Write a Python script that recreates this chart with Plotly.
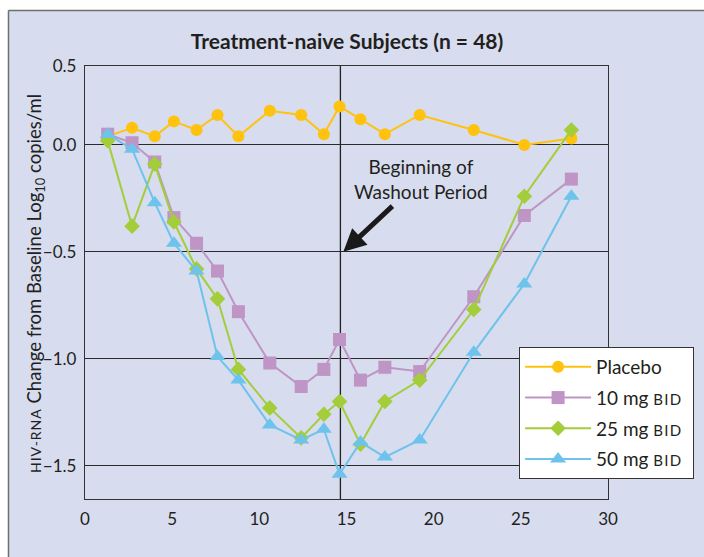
import plotly.graph_objects as go

# ---- data ----
days = [1.3, 2.7, 4.0, 5.1, 6.4, 7.6, 8.8, 10.6, 12.4, 13.7, 14.6, 15.8, 17.2, 19.2, 22.3, 25.2, 27.9]
placebo = [0.04, 0.08, 0.04, 0.11, 0.07, 0.14, 0.04, 0.16, 0.14, 0.05, 0.18, 0.12, 0.05, 0.14, 0.07, 0.00, 0.03]
mg10 = [0.05, 0.01, -0.08, -0.34, -0.46, -0.59, -0.78, -1.02, -1.13, -1.05, -0.91, -1.10, -1.04, -1.06, -0.71, -0.33, -0.16]
mg25 = [0.02, -0.38, -0.09, -0.36, -0.58, -0.72, -1.05, -1.23, -1.37, -1.26, -1.20, -1.40, -1.20, -1.10, -0.77, -0.24, 0.07]
mg50 = [0.05, -0.02, -0.27, -0.46, -0.59, -0.99, -1.10, -1.31, -1.38, -1.33, -1.54, -1.39, -1.46, -1.38, -0.97, -0.65, -0.24]

SC = "<span style='font-size:15px;letter-spacing:1.3px'>BID</span>"
series_names = ["Placebo",
                "10 mg " + SC + "\u00a0",
                "25 mg " + SC + "\u00a0",
                "50 mg " + SC + "\u00a0"]
series_values = [placebo, mg10, mg25, mg50]
colors = ["#FFC20E", "#BE95C4", "#A3CD39", "#6DC3EB"]
symbols = ["circle", "square", "diamond", "triangle-up"]
sizes = [12, 13, 12, 14]

x_tickvals = [0, 5, 10, 15, 20, 25, 30]
y_range = [-1.656, 0.369]
y_tickvals = [-1.5, -1.0, -0.5, 0.0, 0.369]
y_ticktext = ["\u22121.5", "\u22121.0", "\u22120.5", "0.0", "0.5"]
washout_day = 14.65
y_title = ("<span style='font-size:14px;letter-spacing:1px'>HIV-RNA</span> "
           "Change from Baseline Log<sub>10</sub> copies/ml")

FONT = "Lato"
BG = "#D7DCEE"
INK = "#231F20"

fig = go.Figure()
for name, vals, c, s, sz in zip(series_names, series_values, colors, symbols, sizes):
    fig.add_trace(go.Scatter(
        x=days, y=vals, name=name, mode="lines+markers",
        line=dict(color=c, width=2),
        marker=dict(color=c, symbol=s, size=sz, line=dict(width=0)),
        legendgroup=name,
    ))

# washout line
fig.add_shape(type="line", xref="x", yref="paper", x0=washout_day, x1=washout_day,
              y0=0, y1=1, line=dict(color="#222222", width=1.3), layer="below")

# figure frame: white margin at top and left, grey rule around the lavender panel
fig.add_shape(type="rect", xref="paper", yref="paper", x0=-0.2, x1=1.3, y0=1.1293, y1=1.2,
              fillcolor="white", line=dict(width=0), layer="below")
fig.add_shape(type="rect", xref="paper", yref="paper", x0=-0.2, x1=-0.1472, y0=-0.2, y1=1.2,
              fillcolor="white", line=dict(width=0), layer="below")
fig.add_shape(type="line", xref="paper", yref="paper", x0=-0.1463, x1=1.3, y0=1.1282, y1=1.1282,
              line=dict(color="#6E6E6E", width=1.5))
fig.add_shape(type="line", xref="paper", yref="paper", x0=-0.1463, x1=-0.1463, y0=-0.2, y1=1.1282,
              line=dict(color="#6E6E6E", width=1.5))

# y-axis title
fig.add_annotation(x=-0.0956, y=0.4965, xref="paper", yref="paper", showarrow=False,
                   text=y_title, textangle=-90, xanchor="center", yanchor="middle",
                   font=dict(family=FONT, size=18.5, color=INK))

# arrow + annotation text
fig.add_annotation(x=14.82, y=-0.50, ax=17.72, ay=-0.28, xref="x", yref="y", axref="x", ayref="y",
                   text="", showarrow=True, arrowhead=2, arrowsize=0.9, arrowwidth=5,
                   arrowcolor="#1A1A1A")
fig.add_annotation(x=19.27, y=-0.16, xref="x", yref="y", showarrow=False,
                   text="Beginning of<br>Washout Period",
                   font=dict(family=FONT, size=19, color=INK), align="center")

fig.update_layout(
    width=704, height=557,
    margin=dict(l=85, r=96, t=66, b=58, autoexpand=False),
    paper_bgcolor=BG, plot_bgcolor=BG,
    font=dict(family=FONT, size=17, color=INK),
    title=dict(text="<b>Treatment-naive Subjects (n = 48)</b>", x=0.4929, xanchor="center",
               y=0.9246, yanchor="middle", font=dict(family=FONT, size=21, color=INK)),
    showlegend=True,
    legend=dict(x=0.83, y=0.351, xanchor="left", yanchor="top",
                bgcolor="white", bordercolor="#333333", borderwidth=1,
                font=dict(family=FONT, size=19, color=INK),
                itemwidth=66, tracegroupgap=3, traceorder="grouped",
                itemclick=False),
    xaxis=dict(range=[0, 30], tickvals=x_tickvals, showgrid=False, zeroline=False,
               showline=True, mirror=True, linecolor="#333333", linewidth=1.3,
               ticks="", tickfont=dict(family=FONT, size=17), ticklabelstandoff=4,
               automargin=False),
    yaxis=dict(range=y_range, tickvals=y_tickvals, ticktext=y_ticktext,
               showgrid=True, gridcolor="#2A2A2A", gridwidth=1.2, zeroline=False,
               showline=True, mirror=True, linecolor="#333333", linewidth=1.3,
               ticks="", tickfont=dict(family=FONT, size=17), ticklabelstandoff=4,
               automargin=False),
)

fig.write_html("out.html", config={"displayModeBar": False},
               post_script="document.body.style.margin='0';document.body.style.overflow='hidden';")
